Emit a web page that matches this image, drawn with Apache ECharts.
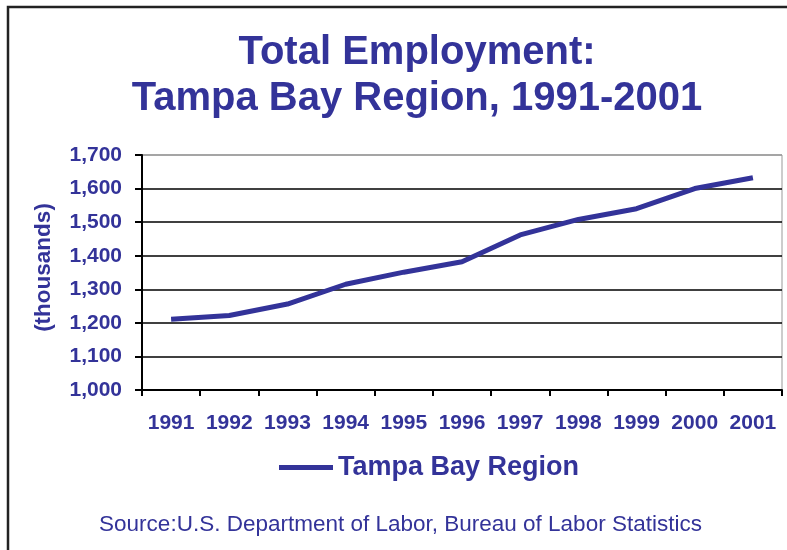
<!DOCTYPE html>
<html>
<head>
<meta charset="utf-8">
<script src="https://cdn.jsdelivr.net/npm/echarts@6/dist/echarts.min.js"></script>
<style>
  html, body { margin: 0; padding: 0; background: #fff; }
  #chart { width: 787px; height: 550px; }
</style>
</head>
<body>
<div id="chart"></div>
<script>
// ---- data ----
const years = ['1991', '1992', '1993', '1994', '1995', '1996', '1997', '1998', '1999', '2000', '2001'];
const employment = [1211, 1222, 1256, 1315, 1351, 1382, 1462, 1508, 1540, 1600, 1632];
const seriesName = 'Tampa Bay Region';
const titleText = 'Total Employment:\nTampa Bay Region, 1991-2001';
const sourceText = 'Source:U.S. Department of Labor, Bureau of Labor Statistics';
const yAxisName = '(thousands)';

const BLUE = '#333399';
const FONT = '"Liberation Sans", Arial, sans-serif';

const chart = echarts.init(document.getElementById('chart'), null, { renderer: 'canvas' });
chart.setOption({
  backgroundColor: '#ffffff',
  animation: false,
  title: [
    {
      text: titleText,
      left: 412,
      top: 25,
      textAlign: 'center',
      padding: 5,
      textStyle: { color: BLUE, fontFamily: FONT, fontWeight: 'bold', fontSize: 40, lineHeight: 46 }
    },
    {
      text: sourceText,
      left: 395.5,
      top: 508,
      textAlign: 'center',
      padding: 5,
      textStyle: { color: BLUE, fontFamily: FONT, fontWeight: 'normal', fontSize: 22.5 }
    }
  ],
  legend: {
    data: [seriesName],
    left: 274,
    top: 449,
    icon: 'rect',
    itemWidth: 54,
    itemHeight: 5,
    textStyle: { color: BLUE, fontFamily: FONT, fontWeight: 'bold', fontSize: 27 }
  },
  grid: {
    left: 142, right: 5, top: 155, bottom: 160,
    show: true, borderColor: '#999999', borderWidth: 1
  },
  xAxis: {
    type: 'category',
    data: years,
    boundaryGap: true,
    axisLine: { lineStyle: { color: '#000', width: 2 } },
    axisTick: { show: true, length: 6, alignWithLabel: false, lineStyle: { color: '#000', width: 2 } },
    axisLabel: { color: BLUE, fontFamily: FONT, fontWeight: 'bold', fontSize: 21, margin: 23, interval: 0 },
    splitLine: { show: false }
  },
  yAxis: {
    type: 'value',
    min: 1000, max: 1700, interval: 100,
    name: yAxisName,
    nameLocation: 'middle',
    nameRotate: 90,
    nameGap: 87,
    nameTextStyle: { color: BLUE, fontFamily: FONT, fontWeight: 'bold', fontSize: 22.5, padding: [0, 0, 0, 10] },
    axisLine: { show: true, lineStyle: { color: '#000', width: 2 } },
    axisTick: { show: true, length: 7, lineStyle: { color: '#000', width: 2 } },
    axisLabel: {
      color: BLUE, fontFamily: FONT, fontWeight: 'bold', fontSize: 21, margin: 20,
      formatter: v => v.toLocaleString('en-US')
    },
    splitLine: { show: true, lineStyle: { color: ['#000','#000','#000','#000','#000','#000','#000','#999'], width: 1.5 } }
  },
  series: [{
    name: seriesName,
    type: 'line',
    data: employment,
    symbol: 'none',
    smooth: false,
    lineStyle: { color: BLUE, width: 5 },
    itemStyle: { color: BLUE }
  }],
  graphic: [{
    type: 'rect',
    silent: true,
    shape: { x: 8, y: 7, width: 820, height: 600 },
    style: { fill: 'none', stroke: '#222', lineWidth: 2.5 }
  }]
});
</script>
</body>
</html>
